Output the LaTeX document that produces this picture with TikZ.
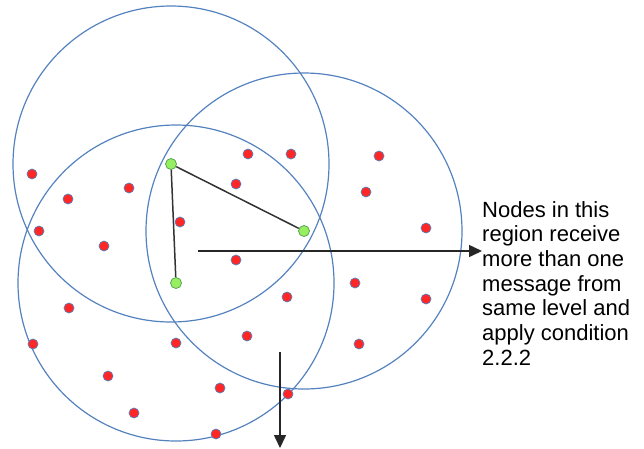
\documentclass[tikz,border=0pt]{standalone}
\usepackage{fontspec}
\setsansfont{Liberation Sans}
\usetikzlibrary{arrows.meta,calc}
\definecolor{ringblue}{RGB}{84,130,190}
\definecolor{dotred}{RGB}{255,38,38}
\definecolor{dotgreen}{RGB}{150,238,96}

\begin{document}
\begin{tikzpicture}[x=1pt, y=-1pt,
    ring/.style={draw=ringblue, line width=1.2pt},
    reddot/.style={circle, fill=dotred, draw=ringblue, line width=0.7pt,
                   minimum size=10pt, inner sep=0pt},
    greendot/.style={circle, fill=dotgreen, draw=green!45!black!70, line width=0.7pt,
                     minimum size=11pt, inner sep=0pt},
    link/.style={draw=black!80, line width=1.5pt},
    pointer/.style={-{Triangle[length=13pt,width=12pt]}, line width=1.5pt, black!85}
]
    \useasboundingbox (0,0) rectangle (644,448);

    % Ranges of the three senders
    \coordinate (c1) at (171,164);
    \coordinate (c2) at (304,231);
    \coordinate (c3) at (176,283);
    \foreach \c in {c1,c2,c3}
        \draw[ring] (\c) circle (158pt);

    % Receiving nodes
    \foreach \x/\y [count=\i] in {32/174, 68/199, 129/188, 39/231, 104/246, 180/222,
                                236/184, 248/154, 291/154, 379/156, 366/192, 426/228,
                                236/260, 287/297, 355/283, 426/299, 69/308, 33/344,
                                176/343, 247/336, 359/344, 108/376, 220/388, 288/394,
                                134/413, 216/434}
        \node[reddot] (r\i) at (\x,\y) {};

    % Senders
    \node[greendot] (g1) at (c1) {};
    \node[greendot] (g2) at (c2) {};
    \node[greendot] (g3) at (c3) {};
    \draw[link] (g1) -- (g2);
    \draw[link] (g1) -- (g3);

    % Note
    \node[anchor=north west, inner sep=0pt, align=left,
          font=\sffamily\fontsize{22}{24.7}\selectfont] (note) at (482,201)
        {Nodes in this\\region receive\\more than one\\message from\\same level and\\apply condition\\2.2.2};

    % Pointers
    \coordinate (p1) at (198,251);
    \coordinate (p2) at (280,352);
    \coordinate (p2end) at (280,448);
    \draw[pointer] (p1) -- (p1 -| note.west);
    \draw[pointer] (p2) -- (p2end);
\end{tikzpicture}
\end{document}
